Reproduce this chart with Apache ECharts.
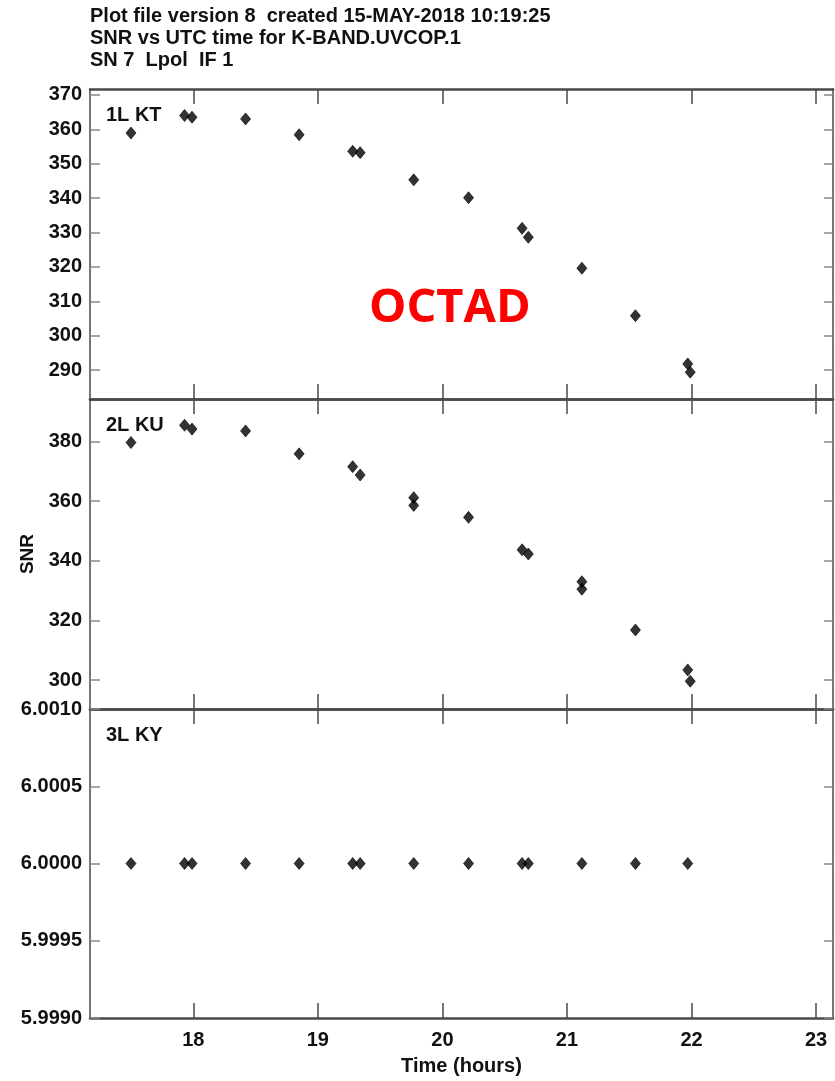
<!DOCTYPE html>
<html>
<head>
<meta charset="utf-8">
<script src="https://cdn.jsdelivr.net/npm/echarts@6/dist/echarts.min.js"></script>
<style>
html,body{margin:0;padding:0;background:#ffffff;}
#chart{width:835px;height:1081px;}
</style>
</head>
<body>
<div id="chart"></div>
<script>
// ---- data ----
var titleLines = ['Plot file version 8  created 15-MAY-2018 10:19:25', 'SNR vs UTC time for K-BAND.UVCOP.1', 'SN 7  Lpol  IF 1'];
var panelLabels = ['1L KT', '2L KU', '3L KY'];
var xTicks = [18, 19, 20, 21, 22, 23];
var yTicks1 = [290, 300, 310, 320, 330, 340, 350, 360, 370];
var yTicks2 = [300, 320, 340, 360, 380];
var yTicks3 = [5.999, 5.9995, 6.0, 6.0005, 6.001];

var times1 = [17.50, 17.93, 17.99, 18.42, 18.85, 19.28, 19.34, 19.77, 20.21, 20.64, 20.69, 21.12, 21.55, 21.97, 21.99];
var snr1   = [358.9, 364.0, 363.5, 363.0, 358.4, 353.6, 353.2, 345.3, 340.1, 331.2, 328.6, 319.6, 305.8, 291.8, 289.4];

var times2 = [17.50, 17.93, 17.99, 18.42, 18.85, 19.28, 19.34, 19.77, 19.77, 20.21, 20.64, 20.69, 21.12, 21.12, 21.55, 21.97, 21.99];
var snr2   = [379.7, 385.5, 384.2, 383.6, 375.9, 371.6, 368.8, 361.2, 358.6, 354.6, 343.7, 342.3, 333.0, 330.5, 316.8, 303.4, 299.6];

var times3 = [17.50, 17.93, 17.99, 18.42, 18.85, 19.28, 19.34, 19.77, 20.21, 20.64, 20.69, 21.12, 21.55, 21.97];
var snr3   = [6.0, 6.0, 6.0, 6.0, 6.0, 6.0, 6.0, 6.0, 6.0, 6.0, 6.0, 6.0, 6.0, 6.0];

var overlayText = 'OCTAD';
var xName = 'Time (hours)';
var yName = 'SNR';

// ---- layout / style ----
var FONT = '"Liberation Sans", Arial, sans-serif';
var AXC = '#4a4a4a';
var TXT = '#111111';
var XMIN = 17.171, XMAX = 23.136;
var grids = [
  {left: 90, right: 2, top: 89, height: 310, outerBoundsMode: 'none'},
  {left: 90, right: 2, top: 399, height: 310, outerBoundsMode: 'none'},
  {left: 90, right: 2, top: 709, height: 309, outerBoundsMode: 'none'}
];
var yRanges = [[281.6, 371.7], [290.3, 394.3], [5.999, 6.001]];
var yTickSets = [yTicks1, yTicks2, yTicks3];
var dataSets = [[times1, snr1], [times2, snr2], [times3, snr3]];

var xAxes = [], yAxes = [], series = [];
for (var i = 0; i < 3; i++) {
  xAxes.push({
    type: 'value', gridIndex: i, position: 'bottom', min: XMIN, max: XMAX,
    axisLine: {show: true, onZero: false, lineStyle: {color: AXC, width: 2.5}},
    axisTick: {show: true, inside: true, length: 15, customValues: xTicks, lineStyle: {color: AXC, width: 1.5}},
    axisLabel: {show: i === 2, customValues: xTicks, margin: 12, color: TXT, fontFamily: FONT, fontWeight: 'bold', fontSize: 20},
    splitLine: {show: false},
    name: i === 2 ? xName : '', nameLocation: 'middle', nameGap: 38,
    nameTextStyle: {color: TXT, fontFamily: FONT, fontWeight: 'bold', fontSize: 20}
  });
  xAxes.push({
    type: 'value', gridIndex: i, position: 'top', min: XMIN, max: XMAX,
    axisLine: {show: true, onZero: false, lineStyle: {color: AXC, width: 2.5}},
    axisTick: {show: true, inside: true, length: 15, customValues: xTicks, lineStyle: {color: AXC, width: 1.5}},
    axisLabel: {show: false},
    splitLine: {show: false}
  });
  var fmt = (i === 2) ? function (v) { return v.toFixed(4); } : function (v) { return String(Math.round(v)); };
  yAxes.push({
    type: 'value', gridIndex: i, position: 'left', min: yRanges[i][0], max: yRanges[i][1],
    axisLine: {show: true, onZero: false, lineStyle: {color: '#777777', width: 2}},
    axisTick: {show: true, inside: true, length: 10, customValues: yTickSets[i], lineStyle: {color: '#888888', width: 1.5}},
    axisLabel: {show: true, customValues: yTickSets[i], formatter: fmt, margin: 8, color: TXT, fontFamily: FONT, fontWeight: 'bold', fontSize: 20, hideOverlap: false},
    splitLine: {show: false},
    name: i === 1 ? yName : '', nameLocation: 'middle', nameGap: 52, nameRotate: 90,
    nameTextStyle: {color: TXT, fontFamily: FONT, fontWeight: 'bold', fontSize: 19}
  });
  yAxes.push({
    type: 'value', gridIndex: i, position: 'right', min: yRanges[i][0], max: yRanges[i][1],
    axisLine: {show: true, onZero: false, lineStyle: {color: '#777777', width: 2}},
    axisTick: {show: true, inside: true, length: 9, customValues: yTickSets[i], lineStyle: {color: '#888888', width: 1.5}},
    axisLabel: {show: false},
    splitLine: {show: false}
  });
  var pts = [];
  for (var k = 0; k < dataSets[i][0].length; k++) pts.push([dataSets[i][0][k], dataSets[i][1][k]]);
  series.push({
    type: 'scatter', xAxisIndex: i * 2, yAxisIndex: i * 2, data: pts,
    symbol: 'diamond', symbolSize: [10, 12],
    itemStyle: {color: '#000000', borderColor: '#000000', borderWidth: 0.8}, silent: true, clip: false, z: 5
  });
}

var graphics = [];
var titleY = [17, 39, 61];
for (var t = 0; t < titleLines.length; t++) {
  graphics.push({type: 'text', left: 90, top: titleY[t] - 11,
    style: {text: titleLines[t], fill: TXT, font: 'bold 20px ' + FONT}});
}
var labelY = [116, 426, 736];
for (var p = 0; p < panelLabels.length; p++) {
  graphics.push({type: 'text', left: 106, top: labelY[p] - 11,
    style: {text: panelLabels[p], fill: TXT, font: 'bold 20px ' + FONT}});
}
graphics.push({type: 'text', left: 369, top: 285,
  style: {text: overlayText, fill: '#ff0000', font: 'bold 47px "Open Sans", "Noto Sans", sans-serif'}});

var chart = echarts.init(document.getElementById('chart'), null, {renderer: 'canvas'});
chart.setOption({
  animation: false,
  backgroundColor: '#ffffff',
  grid: grids,
  xAxis: xAxes,
  yAxis: yAxes,
  series: series,
  graphic: graphics
});
</script>
</body>
</html>
